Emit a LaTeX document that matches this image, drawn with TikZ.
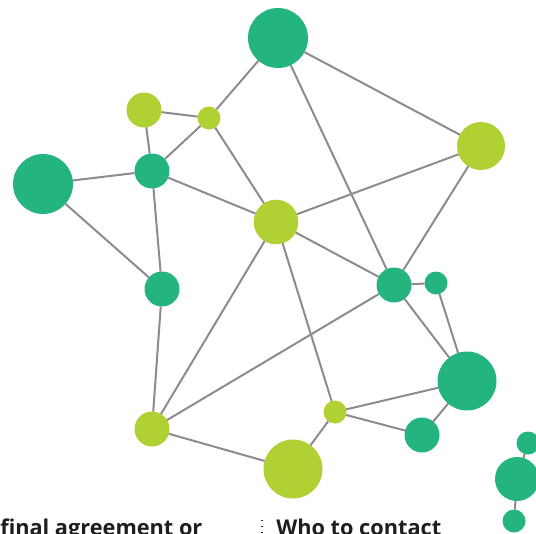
\documentclass[tikz,border=0pt]{standalone}
\usepackage{fontspec}
\setmainfont{Open Sans}
\usepackage{tikz}
\definecolor{netgreen}{RGB}{36,180,127}
\definecolor{netlime}{RGB}{176,208,52}
\definecolor{linkgray}{RGB}{140,140,140}
\definecolor{captext}{RGB}{30,30,30}

\begin{document}
\begin{tikzpicture}[x=0.75pt,y=0.75pt,yscale=-1,xscale=1,
  gnode/.style={circle,fill=netgreen,inner sep=0,outer sep=0,minimum size=#1*1.5pt},
  lnode/.style={circle,fill=netlime,inner sep=0,outer sep=0,minimum size=#1*1.5pt},
  link/.style={draw=linkgray,line width=1.5pt},
  caption/.style={inner sep=0,anchor=base west,text=captext,font=\fontsize{16.3}{19}\selectfont\bfseries}]
\clip (0,0) rectangle (536,533); %set diagram size 536 x 533

%Shape: Circle
\node [gnode=30] (n1) at (278,38) {};
\node [lnode=24] (n2) at (481,146) {};
\node [lnode=17.5] (n3) at (144,110) {};
\node [lnode=11.5] (n4) at (209,118) {};
\node [gnode=30] (n5) at (43,184) {};
\node [gnode=17.5] (n6) at (152,171) {};
\node [lnode=22.3] (n7) at (276,222) {};
\node [gnode=17.5] (n8) at (162,289) {};
\node [gnode=17.5] (n9) at (394,285) {};
\node [gnode=11.5] (n10) at (436,283) {};
\node [gnode=29.5] (n11) at (467,381) {};
\node [lnode=11.5] (n12) at (335,412) {};
\node [gnode=17.5] (n13) at (422,435) {};
\node [lnode=17.5] (n14) at (152,429) {};
\node [lnode=29.5] (n15) at (293,469) {};
\node [gnode=22] (n16) at (517,479) {};
\node [gnode=11.5] (n17) at (528,443) {};
\node [gnode=11.5] (n18) at (514,521) {};

%Straight Lines
\draw [link] (n1) -- (n4);
\draw [link] (n1) -- (n2);
\draw [link] (n1) -- (n9);
\draw [link] (n3) -- (n4);
\draw [link] (n3) -- (n6);
\draw [link] (n4) -- (n6);
\draw [link] (n4) -- (n7);
\draw [link] (n5) -- (n6);
\draw [link] (n5) -- (n8);
\draw [link] (n6) -- (n8);
\draw [link] (n6) -- (n7);
\draw [link] (n7) -- (n2);
\draw [link] (n7) -- (n9);
\draw [link] (n7) -- (n14);
\draw [link] (n7) -- (n12);
\draw [link] (n2) -- (n9);
\draw [link] (n9) -- (n10);
\draw [link] (n10) -- (n11);
\draw [link] (n9) -- (n11);
\draw [link] (n9) -- (n14);
\draw [link] (n8) -- (n14);
\draw [link] (n14) -- (n15);
\draw [link] (n15) -- (n12);
\draw [link] (n12) -- (n11);
\draw [link] (n12) -- (n13);
\draw [link] (n13) -- (n11);
\draw [link] (n16) -- (n17);
\draw [link] (n16) -- (n18);

% Text Node
\node [caption] (capleft) at (0,535) {final agreement or};
\node [caption] (capright) at (276,535) {Who to contact};
\coordinate (septop) at (262,519.5);
\coordinate (sepbot) at (262,545);
\draw [captext,line width=1.2pt,dash pattern=on 1.2pt off 3.3pt] (septop) -- (sepbot);

\end{tikzpicture}
\end{document}
